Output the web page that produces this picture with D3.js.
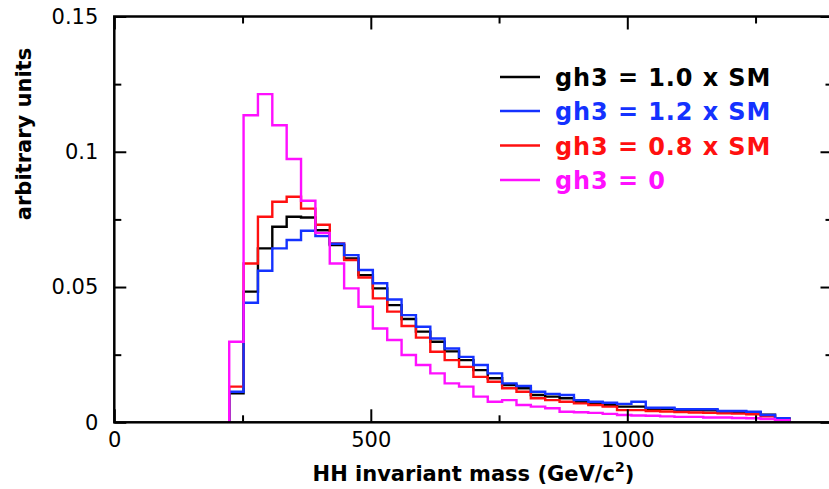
<!DOCTYPE html>
<html>
<head>
<meta charset="utf-8">
<script src="https://cdn.jsdelivr.net/npm/d3@7"></script>
<style>
  html, body { margin: 0; padding: 0; background: #fff; }
  svg { display: block; }
  text { font-family: "DejaVu Sans", Verdana, sans-serif; }
</style>
</head>
<body>
<svg id="chart" width="829" height="489"></svg>
<script>
// ---- data ----
const binStart = 224;      // GeV, lower edge of first bin
const binWidth = 28;       // GeV
const seriesNames = ["gh3 = 1.0 x SM", "gh3 = 1.2 x SM", "gh3 = 0.8 x SM", "gh3 = 0"];
const seriesColors = ["#000000", "#1432ff", "#ff1010", "#ff10ff"];

const sm10 = [0.0107,0.0483,0.0643,0.0723,0.0760,0.0757,0.0710,0.0655,0.0606,0.0544,
              0.0495,0.0433,0.0382,0.0335,0.0298,0.0262,0.0230,0.0193,0.0163,0.0138,
              0.0126,0.0101,0.0095,0.0089,0.0076,0.0072,0.0064,0.0058,0.0058,0.0050,
              0.0050,0.0046,0.0045,0.0044,0.0040,0.0038,0.0036,0.0028,0.0014];
const sm12 = [0.0113,0.0442,0.0560,0.0643,0.0674,0.0708,0.0688,0.0660,0.0618,0.0563,
              0.0514,0.0454,0.0396,0.0353,0.0310,0.0273,0.0242,0.0212,0.0181,0.0144,
              0.0134,0.0113,0.0105,0.0101,0.0082,0.0076,0.0072,0.0068,0.0076,0.0054,
              0.0054,0.0048,0.0048,0.0048,0.0042,0.0042,0.0039,0.0027,0.0015];
const sm08 = [0.0132,0.0587,0.0760,0.0815,0.0834,0.0790,0.0730,0.0661,0.0600,0.0535,
              0.0458,0.0409,0.0356,0.0313,0.0261,0.0230,0.0205,0.0168,0.0150,0.0126,
              0.0113,0.0089,0.0082,0.0076,0.0070,0.0064,0.0058,0.0045,0.0045,0.0042,
              0.0040,0.0038,0.0036,0.0035,0.0033,0.0032,0.0030,0.0022,0.0011];
const sm00 = [0.0298,0.1135,0.1213,0.1098,0.0973,0.0819,0.0700,0.0587,0.0495,0.0427,
              0.0347,0.0304,0.0249,0.0212,0.0181,0.0144,0.0132,0.0095,0.0076,0.0082,
              0.0064,0.0058,0.0052,0.0039,0.0037,0.0035,0.0031,0.0027,0.0025,0.0024,
              0.0022,0.0020,0.0020,0.0018,0.0018,0.0016,0.0015,0.0012,0.0008];
const seriesValues = [sm10, sm12, sm08, sm00];

const xMajorTicks = [0, 500, 1000];
const xMinorTicks = [250, 750, 1250];
const yMajorTicks = [0, 0.05, 0.1, 0.15];
const yMinorTicks = [0.025, 0.075, 0.125];
const yTickLabels = ["0", "0.05", "0.1", "0.15"];

// ---- layout ----
const svg = d3.select("#chart");
const x = d3.scaleLinear().domain([0, 1400]).range([114.3, 832.5]);
const y = d3.scaleLinear().domain([0, 0.15]).range([422.3, 16.5]);
const [x0, x1] = x.range();
const [y0, y1] = y.range();

// histograms (draw order: black, red, blue, magenta)
const drawOrder = [0, 2, 1, 3];
const line = d3.line().x(d => x(d[0])).y(d => y(d[1])).curve(d3.curveStepAfter);
drawOrder.forEach(si => {
  const vals = seriesValues[si];
  const pts = [[binStart, 0]];
  vals.forEach((v, i) => pts.push([binStart + i * binWidth, v]));
  pts.push([binStart + vals.length * binWidth, 0]);
  svg.append("path")
    .attr("d", line(pts))
    .attr("fill", "none")
    .attr("stroke", seriesColors[si])
    .attr("stroke-width", 2.4)
    .attr("stroke-linejoin", "miter");
});

// axes: ticks pointing inward
function styleAxis(g) {
  g.select(".domain").remove();
  g.selectAll(".tick line").attr("stroke", "#000").attr("stroke-width", 2);
  g.selectAll(".tick text").attr("fill", "#000");
}
svg.append("g").attr("transform", `translate(0,${y0})`)
  .call(d3.axisBottom(x).tickValues(xMajorTicks).tickSize(-13).tickPadding(10)
        .tickFormat(d3.format("d")))
  .call(styleAxis)
  .selectAll("text").attr("font-size", 21).attr("font-family", "DejaVu Sans");
svg.append("g").attr("transform", `translate(0,${y0})`)
  .call(d3.axisBottom(x).tickValues(xMinorTicks).tickSize(-7).tickFormat(""))
  .call(styleAxis);
svg.append("g").attr("transform", `translate(0,${y1})`)
  .call(d3.axisTop(x).tickValues(xMajorTicks).tickSize(-13).tickFormat(""))
  .call(styleAxis);
svg.append("g").attr("transform", `translate(0,${y1})`)
  .call(d3.axisTop(x).tickValues(xMinorTicks).tickSize(-7).tickFormat(""))
  .call(styleAxis);
svg.append("g").attr("transform", `translate(${x0},0)`)
  .call(d3.axisLeft(y).tickValues(yMajorTicks).tickSize(-12).tickPadding(16)
        .tickFormat((d, i) => yTickLabels[i]))
  .call(styleAxis)
  .selectAll("text").attr("font-size", 21).attr("font-family", "DejaVu Sans");
svg.append("g").attr("transform", `translate(${x0},0)`)
  .call(d3.axisLeft(y).tickValues(yMinorTicks).tickSize(-7).tickFormat(""))
  .call(styleAxis);
svg.append("g").attr("transform", `translate(${x1},0)`)
  .call(d3.axisRight(y).tickValues(yMajorTicks).tickSize(-12).tickFormat(""))
  .call(styleAxis);
svg.append("g").attr("transform", `translate(${x1},0)`)
  .call(d3.axisRight(y).tickValues(yMinorTicks).tickSize(-7).tickFormat(""))
  .call(styleAxis);

// frame
svg.append("rect")
  .attr("x", x0).attr("y", y1).attr("width", x1 - x0).attr("height", y0 - y1)
  .attr("fill", "none").attr("stroke", "#000").attr("stroke-width", 2.5);

// axis titles
const xt = svg.append("text")
  .attr("x", (x0 + x1) / 2).attr("y", 481)
  .attr("text-anchor", "middle").attr("font-size", 21).attr("font-weight", "bold");
xt.append("tspan").text("HH invariant mass (GeV/c");
xt.append("tspan").attr("font-size", 14).attr("dy", -9).text("2");
xt.append("tspan").attr("dy", 9).text(")");

svg.append("text")
  .attr("transform", `translate(31,134) rotate(-90)`)
  .attr("text-anchor", "middle").attr("font-size", 21).attr("font-weight", "bold")
  .text("arbitrary units");

// legend
const legendRowY = [77, 111, 145.5, 180];
seriesNames.forEach((name, i) => {
  const ly = legendRowY[i];
  svg.append("line").attr("x1", 500).attr("x2", 540).attr("y1", ly).attr("y2", ly)
    .attr("stroke", seriesColors[i]).attr("stroke-width", 2.4);
  svg.append("text").attr("x", 555).attr("y", ly + 9)
    .attr("font-size", 24).attr("font-weight", "bold").attr("letter-spacing", 0.9)
    .attr("fill", seriesColors[i]).text(name);
});
</script>
</body>
</html>
